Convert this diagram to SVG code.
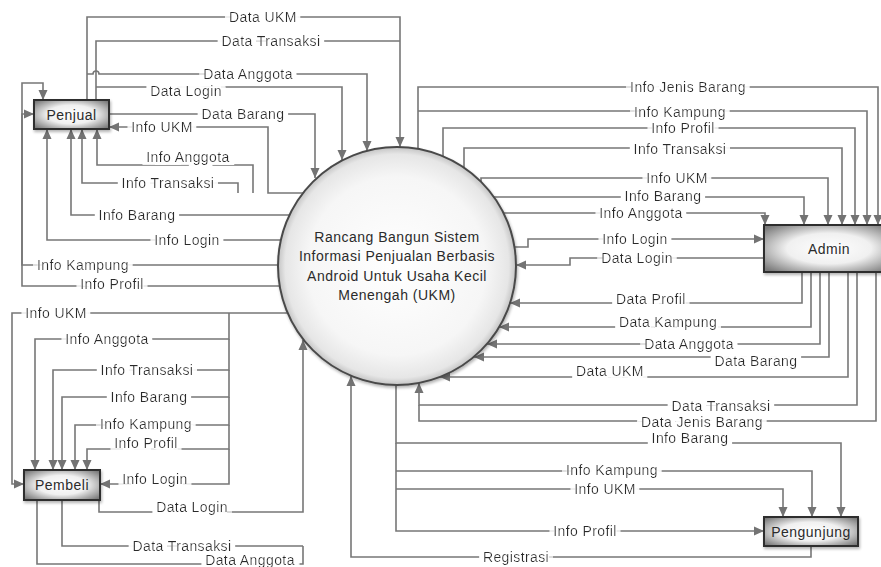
<svg xmlns="http://www.w3.org/2000/svg" width="881" height="567" viewBox="0 0 881 567">
<style>
.ln{fill:none;stroke:#777;stroke-width:1.6;stroke-linejoin:miter}
.ar{marker-end:url(#arr)}
.lbl{font-family:"Liberation Sans",Arial,sans-serif;font-size:14px;letter-spacing:0.4px;fill:#2b2b2b;text-anchor:middle;dominant-baseline:central;filter:url(#bgw)}
.nt{font-family:"Liberation Sans",Arial,sans-serif;font-size:14px;letter-spacing:0.5px;fill:#2b2b2b;text-anchor:middle;dominant-baseline:central}
.box{fill:url(#bg);stroke:#2e2e2e;stroke-width:2;filter:url(#sh)}
</style>
<defs>
<marker id="arr" viewBox="0 0 10 10" refX="10" refY="5" markerWidth="10" markerHeight="10" markerUnits="userSpaceOnUse" orient="auto">
<path d="M0,0.5 L10,5 L0,9.5 z" fill="#737373"/>
</marker>
<filter id="bgw" x="-15%" y="-40%" width="130%" height="180%">
<feMorphology in="SourceAlpha" operator="dilate" radius="5 2.5" result="d"/>
<feFlood flood-color="#ffffff"/>
<feComposite in2="d" operator="in"/>
<feMerge><feMergeNode/><feMergeNode in="SourceGraphic"/></feMerge>
</filter>
<radialGradient id="bg" cx="50%" cy="50%" r="65%">
<stop offset="0" stop-color="#ffffff"/>
<stop offset="0.5" stop-color="#f0f0f0"/>
<stop offset="1" stop-color="#7a7a7a"/>
</radialGradient>
<radialGradient id="cg" cx="50%" cy="50%" r="50%">
<stop offset="0" stop-color="#ffffff"/>
<stop offset="0.75" stop-color="#f6f6f6"/>
<stop offset="0.94" stop-color="#e6e6e6"/>
<stop offset="1" stop-color="#c4c4c4"/>
</radialGradient>
<filter id="sh" x="-20%" y="-20%" width="140%" height="150%">
<feGaussianBlur in="SourceAlpha" stdDeviation="1.5"/>
<feOffset dx="1" dy="2" result="b"/>
<feComponentTransfer><feFuncA type="linear" slope="0.3"/></feComponentTransfer>
<feMerge><feMergeNode/><feMergeNode in="SourceGraphic"/></feMerge>
</filter>
</defs>
<rect width="881" height="567" fill="#fff"/>

<g id="connectors">
<!-- Penjual -> Process -->
<g><path class="ln ar" d="M87,100 V17 H400 V147"/><text class="lbl" x="263" y="17">Data UKM</text></g>
<g><path class="ln" d="M96,100 V41 H400"/><text class="lbl" x="271" y="41">Data Transaksi</text></g>
<g><path class="ln ar" d="M87,74 H93 a3,3 0 0 1 6,0 H367 V151"/><text class="lbl" x="248" y="74">Data Anggota</text></g>
<g><path class="ln ar" d="M96,87 H342 V160"/><text class="lbl" x="186" y="91">Data Login</text></g>
<g><path class="ln ar" d="M109,114 H315 V178"/><text class="lbl" x="243" y="114">Data Barang</text></g>
<!-- Process -> Penjual -->
<g><path class="ln ar" d="M303,193 H268 V127 H109"/><text class="lbl" x="162" y="127">Info UKM</text></g>
<g><path class="ln ar" d="M253,193 V165 H97 V129"/><text class="lbl" x="188" y="157">Info Anggota</text></g>
<g><path class="ln ar" d="M238,193 V183 H82 V129"/><text class="lbl" x="168" y="183">Info Transaksi</text></g>
<g><path class="ln ar" d="M289,215 H71 V129"/><text class="lbl" x="137" y="215">Info Barang</text></g>
<g><path class="ln ar" d="M281,240 H47 V129"/><text class="lbl" x="187" y="240">Info Login</text></g>
<g><path class="ln ar" d="M278,265 H22 V114 H34"/><text class="lbl" x="83" y="265">Info Kampung</text></g>
<g><path class="ln ar" d="M280,286 H22 V83 H43 V100"/><text class="lbl" x="112" y="284">Info Profil</text></g>

<!-- Process -> Admin -->
<g><path class="ln ar" d="M418,149 V87 H878 V225"/><text class="lbl" x="688" y="87">Info Jenis Barang</text></g>
<g><path class="ln ar" d="M418,111 H867 V225"/><text class="lbl" x="680" y="112">Info Kampung</text></g>
<g><path class="ln ar" d="M443,156 V128 H855 V225"/><text class="lbl" x="683" y="128">Info Profil</text></g>
<g><path class="ln ar" d="M464,168 V148 H842 V225"/><text class="lbl" x="680" y="149">Info Transaksi</text></g>
<g><path class="ln ar" d="M481,182 V178 H828 V225"/><text class="lbl" x="677" y="178">Info UKM</text></g>
<g><path class="ln ar" d="M494,197 H804 V225"/><text class="lbl" x="663" y="196">Info Barang</text></g>
<g><path class="ln ar" d="M503,213 H765 V225"/><text class="lbl" x="641" y="213">Info Anggota</text></g>
<g><path class="ln ar" d="M514,247 H528 V239 H764"/><text class="lbl" x="635" y="239">Info Login</text></g>
<!-- Admin -> Process -->
<g><path class="ln ar" d="M764,258 H570 V265 H516"/><text class="lbl" x="637" y="258">Data Login</text></g>
<g><path class="ln ar" d="M802,272 V303 H510"/><text class="lbl" x="651" y="299">Data Profil</text></g>
<g><path class="ln ar" d="M811,272 V327 H499"/><text class="lbl" x="668" y="322">Data Kampung</text></g>
<g><path class="ln ar" d="M820,272 V344 H487"/><text class="lbl" x="689" y="344">Data Anggota</text></g>
<g><path class="ln ar" d="M829,272 V357 H474"/><text class="lbl" x="756" y="361">Data Barang</text></g>
<g><path class="ln ar" d="M848,272 V377 H440"/><text class="lbl" x="610" y="371">Data UKM</text></g>
<g><path class="ln ar" d="M857,272 V405 H419 V383"/><text class="lbl" x="721" y="406">Data Transaksi</text></g>
<g><path class="ln" d="M876,272 V421 H419 V405"/><text class="lbl" x="702" y="422">Data Jenis Barang</text></g>

<!-- Process -> Pengunjung -->
<g><path class="ln ar" d="M396,385 V443 H841 V517"/><text class="lbl" x="690" y="438">Info Barang</text></g>
<g><path class="ln ar" d="M396,471 H812 V517"/><text class="lbl" x="612" y="470">Info Kampung</text></g>
<g><path class="ln ar" d="M396,489 H783 V517"/><text class="lbl" x="605" y="489">Info UKM</text></g>
<g><path class="ln ar" d="M396,443 V531 H764"/><text class="lbl" x="585" y="531">Info Profil</text></g>
<!-- Pengunjung -> Process -->
<g><path class="ln ar" d="M811,546 V557 H351 V376"/><text class="lbl" x="516" y="557">Registrasi</text></g>

<!-- Process -> Pembeli -->
<g><path class="ln ar" d="M288,313 H12 V484 H24"/><text class="lbl" x="56" y="313">Info UKM</text></g>
<g><path class="ln ar" d="M229,313 V339 H35 V470"/><text class="lbl" x="107" y="339">Info Anggota</text></g>
<g><path class="ln ar" d="M229,339 V370 H53 V470"/><text class="lbl" x="147" y="370">Info Transaksi</text></g>
<g><path class="ln ar" d="M229,370 V397 H62 V470"/><text class="lbl" x="149" y="397">Info Barang</text></g>
<g><path class="ln ar" d="M229,397 V425 H75 V470"/><text class="lbl" x="146" y="424">Info Kampung</text></g>
<g><path class="ln ar" d="M229,425 V449 H87 V470"/><text class="lbl" x="146" y="443">Info Profil</text></g>
<g><path class="ln ar" d="M229,449 V484 H100"/><text class="lbl" x="155" y="479">Info Login</text></g>
<!-- Pembeli -> Process -->
<g><path class="ln ar" d="M99,500 V512 H303 V340"/><text class="lbl" x="192" y="507">Data Login</text></g>
<g><path class="ln" d="M62,500 V546 H303"/><text class="lbl" x="182" y="546">Data Transaksi</text></g>
<g><path class="ln" d="M37,500 V564 H303 V546"/><text class="lbl" x="250" y="560">Data Anggota</text></g>
</g>

<g id="process">
<circle cx="397" cy="266" r="119" fill="url(#cg)" stroke="#4a4a4a" stroke-width="2" filter="url(#sh)"/>
<text class="nt" x="397" y="237">Rancang Bangun Sistem</text>
<text class="nt" x="397" y="256">Informasi Penjualan Berbasis</text>
<text class="nt" x="397" y="276">Android Untuk Usaha Kecil</text>
<text class="nt" x="397" y="295">Menengah (UKM)</text>
</g>
<g id="penjual"><rect class="box" x="34" y="100" width="75" height="29"/><text class="nt" x="71.5" y="114.5">Penjual</text></g>
<g id="admin"><rect class="box" x="764" y="225" width="130" height="47"/><text class="nt" x="829" y="249">Admin</text></g>
<g id="pembeli"><rect class="box" x="24" y="470" width="76" height="30"/><text class="nt" x="62" y="485">Pembeli</text></g>
<g id="pengunjung"><rect class="box" x="764" y="517" width="94" height="29"/><text class="nt" x="811" y="531.5">Pengunjung</text></g>
</svg>
